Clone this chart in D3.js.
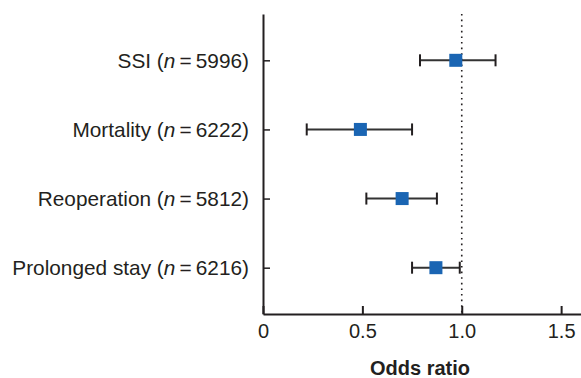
<!DOCTYPE html>
<html>
<head>
<meta charset="utf-8">
<script src="https://cdn.jsdelivr.net/npm/d3@7"></script>
<style>
    body { margin: 0; background: #fff; }
    svg text { font-family: "Liberation Sans", Arial, Helvetica, sans-serif; fill: #231f20; }
</style>
</head>
<body>
<svg id="chart" width="581" height="378"></svg>
<script>
// outcomes, sample sizes and odds ratios with 95% CI
const outcomes = ["SSI", "Mortality", "Reoperation", "Prolonged stay"];
const sizes = [5996, 6222, 5812, 6216];
const oddsRatio = [0.97, 0.49, 0.70, 0.87];
const ciLow = [0.79, 0.22, 0.52, 0.75];
const ciHigh = [1.17, 0.75, 0.875, 0.99];
const xTicks = [0, 0.5, 1.0, 1.5];

const width = 581, height = 378;
const margin = {top: 14, right: 0, bottom: 64, left: 263};

const svg = d3.select("#chart");

const x = d3.scaleLinear()
    .domain([0, 1.6])
    .range([margin.left, width - margin.right]);

const y = d3.scalePoint()
    .domain(outcomes)
    .range([margin.top, height - margin.bottom])
    .padding(0.67);

const data = outcomes.map((d, i) => ({
    name: d, n: sizes[i], or: oddsRatio[i], lo: ciLow[i], hi: ciHigh[i]
}));

// reference line at OR = 1
svg.append("line")
    .attr("x1", x(1)).attr("x2", x(1))
    .attr("y1", margin.top).attr("y2", height - margin.bottom)
    .attr("stroke", "#231f20")
    .attr("stroke-width", 1.6)
    .attr("stroke-dasharray", "1.6,4");

// x axis
const xAxis = svg.append("g")
    .attr("transform", `translate(0,${height - margin.bottom})`)
    .call(d3.axisBottom(x)
        .tickValues(xTicks)
        .tickSizeInner(-8)
        .tickSizeOuter(0)
        .tickPadding(10)
        .tickFormat(d => d === 0 ? "0" : d3.format(".1f")(d)));
xAxis.select(".domain").attr("stroke", "#231f20").attr("stroke-width", 2);
xAxis.selectAll(".tick line").attr("stroke", "#231f20").attr("stroke-width", 2);
xAxis.selectAll(".tick text")
    .style("font-size", "20px")
    .style("fill", "#231f20");

// y axis
const yAxis = svg.append("g")
    .attr("transform", `translate(${margin.left},0)`)
    .call(d3.axisLeft(y).tickSizeInner(-7).tickSizeOuter(0).tickFormat(""));
yAxis.select(".domain").attr("stroke", "#231f20").attr("stroke-width", 2);
yAxis.selectAll(".tick line").attr("stroke", "#231f20").attr("stroke-width", 1.5);

// row labels
const labels = svg.append("g").selectAll("text")
    .data(data)
    .join("text")
    .attr("x", margin.left - 14)
    .attr("y", d => y(d.name))
    .attr("dy", "0.35em")
    .attr("text-anchor", "end")
    .style("font-size", "20.8px");
labels.append("tspan").text(d => d.name + " (");
labels.append("tspan").style("font-style", "italic").text("n");
labels.append("tspan").text(d => "\u2009=\u2009" + d.n + ")");

// confidence intervals
const rows = svg.append("g").selectAll("g")
    .data(data)
    .join("g");

rows.append("line")
    .attr("x1", d => x(d.lo)).attr("x2", d => x(d.hi))
    .attr("y1", d => y(d.name)).attr("y2", d => y(d.name))
    .attr("stroke", "#333")
    .attr("stroke-width", 2);

rows.selectAll("line.cap")
    .data(d => [d.lo, d.hi].map(v => ({v, name: d.name})))
    .join("line")
    .attr("class", "cap")
    .attr("x1", d => x(d.v)).attr("x2", d => x(d.v))
    .attr("y1", d => y(d.name) - 6).attr("y2", d => y(d.name) + 6)
    .attr("stroke", "#231f20")
    .attr("stroke-width", 2);

const sq = 13;
rows.append("rect")
    .attr("x", d => x(d.or) - sq / 2)
    .attr("y", d => y(d.name) - sq / 2)
    .attr("width", sq)
    .attr("height", sq)
    .attr("fill", "#1a65b3");

// axis title
svg.append("text")
    .attr("x", 420)
    .attr("y", 375)
    .attr("text-anchor", "middle")
    .style("font-size", "20px")
    .style("font-weight", "bold")
    .text("Odds ratio");
</script>
</body>
</html>
